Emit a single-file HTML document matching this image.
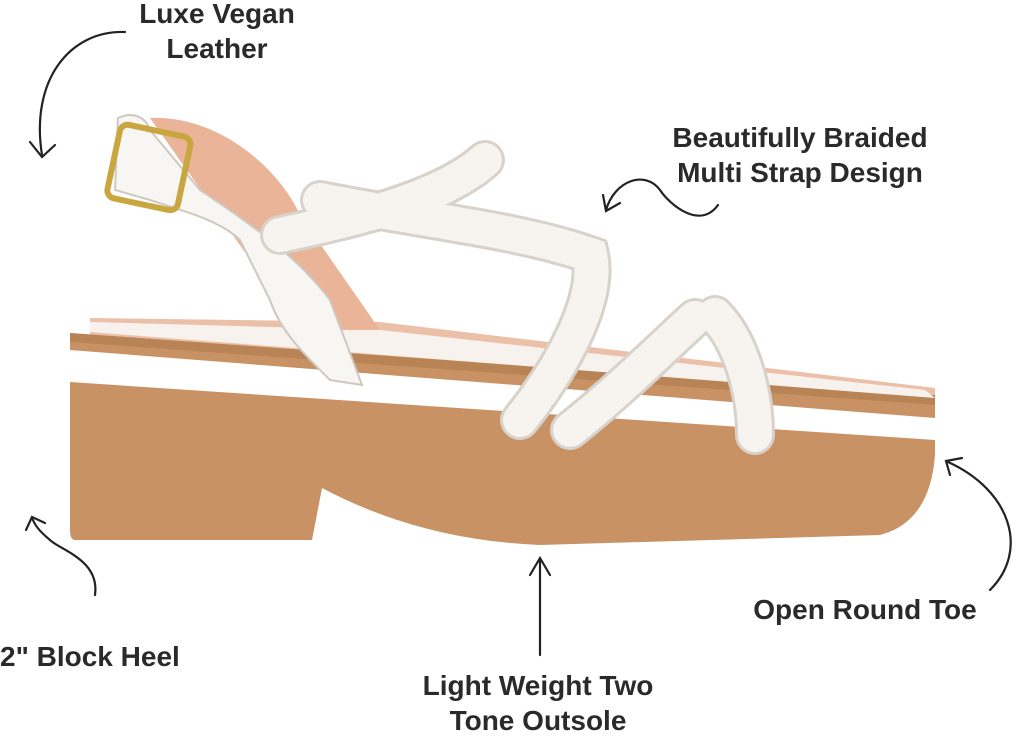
<!DOCTYPE html>
<html><head><meta charset="utf-8"><style>
html,body{margin:0;padding:0;background:#fff;}
body{width:1024px;height:732px;overflow:hidden;position:relative;font-family:"Liberation Sans",sans-serif;}
.l{position:absolute;font-weight:bold;font-size:28px;color:#2a2a2a;white-space:nowrap;line-height:35px;text-align:center;}
svg{position:absolute;left:0;top:0;}
</style></head><body>
<svg width="1024" height="732" viewBox="0 0 1024 732">
<g fill="none" stroke="#222" stroke-width="2.2" stroke-linecap="round">
<path d="M125,32 C70,30 30,80 42,155"/><path d="M30,142 L42,157 L55,145"/>
<path d="M718,205 C700,230 670,205 660,190 C645,170 615,180 606,210"/><path d="M603,195 L606,211 L620,203"/>
<path d="M990,590 C1030,550 1010,490 948,462"/><path d="M950,475 L946,461 L962,458"/>
<path d="M95,595 C100,560 60,550 50,540 C38,530 35,525 32,518"/><path d="M26,530 L32,517 L45,523"/>
<path d="M540,655 L540,560"/><path d="M530,575 L540,558 L550,575"/>
</g>
<path d="M90,318 L380,322 L935,388 L935,410 L90,345 Z" fill="#ecc0a8"/>
<path d="M70,333 L935,395 L935,455 Q930,522 880,535 L540,545 Q420,540 322,488 L312,540 L75,540 Q70,540 70,530 Z" fill="#c99264"/>
<path d="M70,350 L935,418 L935,440 L70,382 Z" fill="#fff"/>
<path d="M70,333 L935,396 L935,405 L70,342 Z" fill="#b98455"/>
<path d="M90,322 L380,330 L925,390 L935,398 L90,332 Z" fill="#f7f2ee"/>
<path d="M150,118 C220,115 280,170 300,215 L380,330 L300,330 Z" fill="#e9b497"/>
<path d="M118,118 C130,112 145,115 150,130 L200,190 C260,230 300,260 330,300 L362,385 L330,380 C300,350 280,330 270,300 L240,240 C220,220 180,210 150,200 L115,190 Z" fill="#f8f6f3" stroke="#cfc8c0" stroke-width="2"/>
<rect x="113" y="130" width="72" height="75" rx="8" fill="none" stroke="#c9a640" stroke-width="6" transform="rotate(12 149 167)"/>
<g fill="none" stroke-linecap="round">
<g stroke="#d8d2cb" stroke-width="40">
<path d="M280,235 C350,220 440,200 485,160"/>
<path d="M320,200 C420,220 520,230 590,255 C600,300 560,370 520,420"/>
<path d="M570,430 C620,390 660,350 695,318"/>
<path d="M715,315 C740,340 755,390 755,435"/>
</g>
<g stroke="#f7f4f0" stroke-width="34" stroke-dasharray="14 4">
<path d="M280,235 C350,220 440,200 485,160"/>
<path d="M320,200 C420,220 520,230 590,255 C600,300 560,370 520,420"/>
<path d="M570,430 C620,390 660,350 695,318"/>
<path d="M715,315 C740,340 755,390 755,435"/>
</g>
</g>
</svg>
<div class="l" style="left:117px;top:-4px;width:200px">Luxe Vegan<br>Leather</div>
<div class="l" style="left:650px;top:120px;width:300px">Beautifully Braided<br>Multi Strap Design</div>
<div class="l" style="left:735px;top:592px;width:260px">Open Round Toe</div>
<div class="l" style="left:0px;top:639px;width:200px;text-align:left">2" Block Heel</div>
<div class="l" style="left:388px;top:668px;width:300px">Light Weight Two<br>Tone Outsole</div>
</body></html>
